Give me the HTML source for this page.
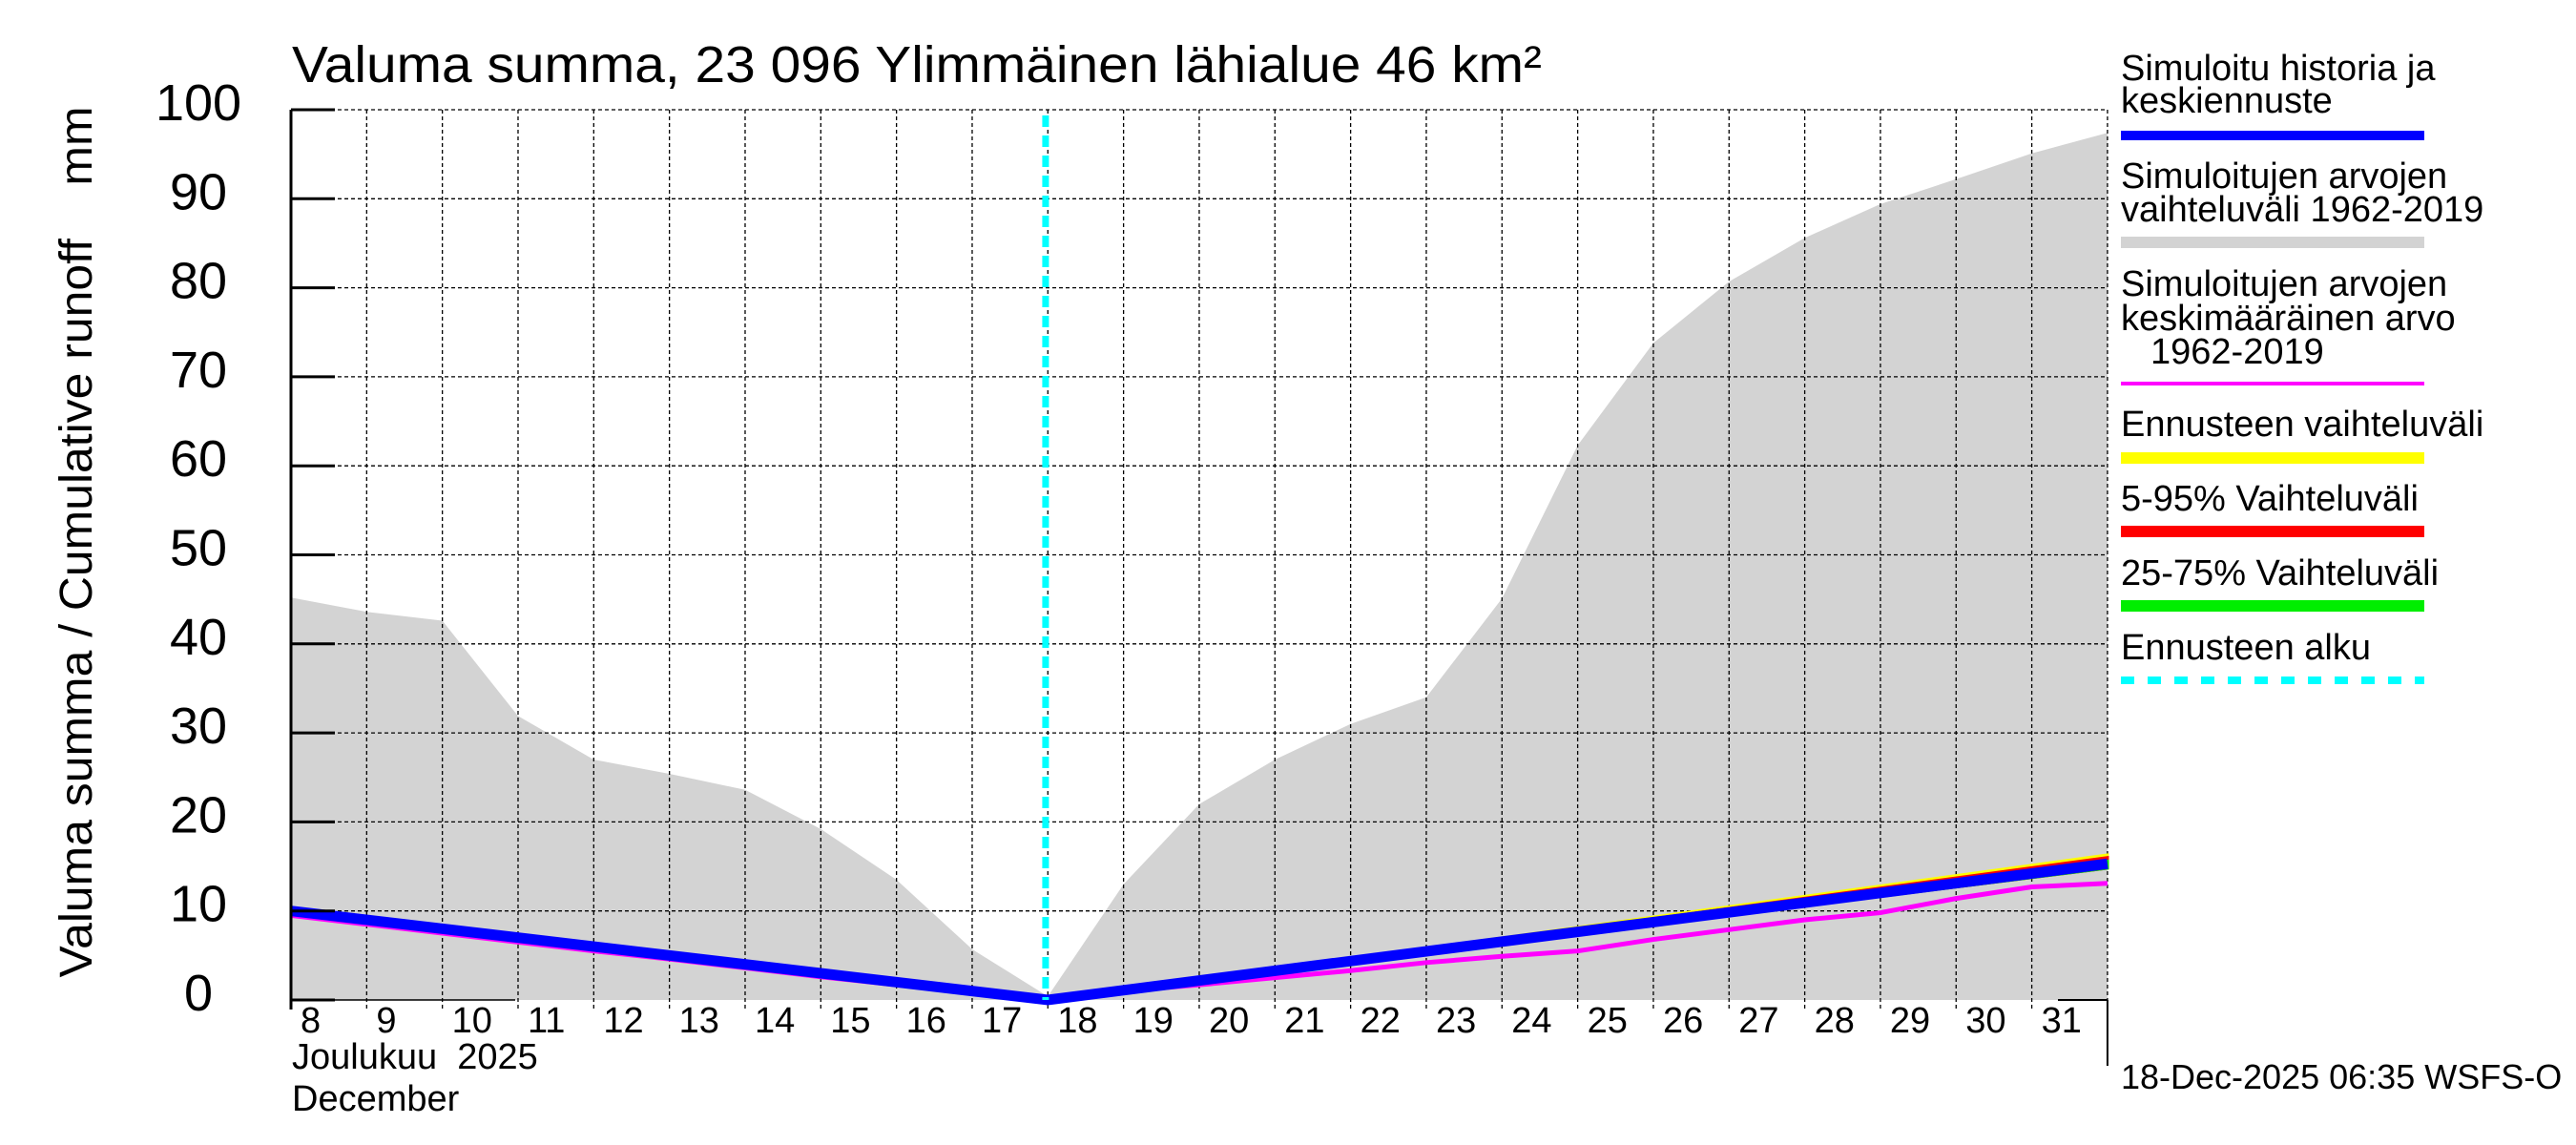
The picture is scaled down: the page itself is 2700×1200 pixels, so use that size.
<!DOCTYPE html>
<html><head><meta charset="utf-8"><style>
html,body{margin:0;padding:0;background:#fff;}
svg{display:block;font-family:"Liberation Sans",Arial,sans-serif;}
text{white-space:pre;}
</style></head><body>
<svg id="chart" width="2700" height="1200" viewBox="0 0 2700 1200">
<text x="306" y="86" font-size="54" textLength="1310" lengthAdjust="spacingAndGlyphs">Valuma summa, 23 096 Ylimmäinen lähialue 46 km²</text>
<text transform="translate(96,568) rotate(-90)" text-anchor="middle" font-size="48" textLength="913" lengthAdjust="spacingAndGlyphs">Valuma summa / Cumulative runoff    mm</text>
<g id="plot"></g>
<g id="legend" font-size="38">
 <text x="2223" y="84">Simuloitu historia ja</text>
 <text x="2223" y="118">keskiennuste</text>
 <rect x="2223" y="137" width="318" height="10" fill="#0000ff"/>
 <text x="2223" y="197">Simuloitujen arvojen</text>
 <text x="2223" y="232">vaihteluväli 1962-2019</text>
 <rect x="2223" y="248" width="318" height="12" fill="#d3d3d3"/>
 <text x="2223" y="310">Simuloitujen arvojen</text>
 <text x="2223" y="346">keskimääräinen arvo</text>
 <text x="2254" y="381">1962-2019</text>
 <rect x="2223" y="400" width="318" height="4" fill="#ff00ff"/>
 <text x="2223" y="457">Ennusteen vaihteluväli</text>
 <rect x="2223" y="474" width="318" height="12" fill="#ffff00"/>
 <text x="2223" y="535">5-95% Vaihteluväli</text>
 <rect x="2223" y="551" width="318" height="12" fill="#ff0000"/>
 <text x="2223" y="613">25-75% Vaihteluväli</text>
 <rect x="2223" y="629" width="318" height="12" fill="#00ee00"/>
 <text x="2223" y="691">Ennusteen alku</text>
 <line x1="2223" y1="713" x2="2541" y2="713" stroke="#00ffff" stroke-width="8" stroke-dasharray="14,14"/>
</g>
<text x="2223" y="1141" font-size="36">18-Dec-2025 06:35 WSFS-O</text>
</svg>
<script>
const days = [8,9,10,11,12,13,14,15,16,17,18,19,20,21,22,23,24,25,26,27,28,29,30,31,32];
const rangeMax = [45.2,43.6,42.6,31.9,27,25.4,23.6,19.2,13.5,5.7,0.4,13,22,27,31,34,45.1,62.3,73.8,80.7,85.6,89.4,92.2,95.1,97.4];
const meanVals = [9.5,8.5,7.5,6.5,5.5,4.6,3.6,2.6,1.7,0.8,-0.2,1,1.7,2.5,3.3,4.2,4.9,5.5,6.8,7.9,9,9.8,11.4,12.7,13.1];
const histDays = [8,18];
const histVals = [10,0];
const fcDays = [18,32];
const fcMed = [0,15.3];
const fcMin = [0,14.8];
const fcMax = [0,16.3];
const fc595Hi = [0,16.0];
const fc2575Hi = [0,15.6];
const yTicks = [0,10,20,30,40,50,60,70,80,90,100];
const dayLabels = ["8","9","10","11","12","13","14","15","16","17","18","19","20","21","22","23","24","25","26","27","28","29","30","31"];
const forecastStart = 17.97;

const X0=305, DX=79.33, Y0=1048, DY=9.33;
const xs = d => X0 + (d-8)*DX;
const ys = v => Y0 - v*DY;
const NS="http://www.w3.org/2000/svg";
const plot=document.getElementById('plot');
function mk(tag, attrs){const e=document.createElementNS(NS,tag);for(const k in attrs)e.setAttribute(k,attrs[k]);plot.appendChild(e);return e;}

let p='M'+xs(days[0])+','+ys(0);
days.forEach((d,i)=>{p+=' L'+xs(d)+','+ys(rangeMax[i]);});
p+=' L'+xs(days[days.length-1])+','+ys(0)+' Z';
let e=mk('path',{d:p,fill:'#d3d3d3'});



days.forEach(d=>{ if(d>8){
 let g=mk('line',{x1:xs(d),y1:ys(100),x2:xs(d),y2:Y0+10,stroke:'#000','stroke-width':1.3,'stroke-dasharray':'4,3'});
 
 
}});
yTicks.forEach(v=>{ if(v>0){
 let g=mk('line',{x1:X0,y1:ys(v),x2:xs(32),y2:ys(v),stroke:'#000','stroke-width':1.3,'stroke-dasharray':'4,3'});
 
 
}});

function band(lo,hi,col,name){
 let d='M'+xs(fcDays[0])+','+ys(lo[0]);
 fcDays.forEach((x,i)=>{d+=' L'+xs(x)+','+ys(hi[i]);});
 for(let i=fcDays.length-1;i>=0;i--) d+=' L'+xs(fcDays[i])+','+ys(lo[i]);
 let b=mk('path',{d:d+' Z',fill:col,stroke:col,'stroke-width':3});
 
 
}
band(fcMin,fcMax,'#ffff00','forecast-range-band');
band(fcMin,fc595Hi,'#ff0000','forecast-5-95-band');
band(fcMin,fc2575Hi,'#00ee00','forecast-25-75-band');

let mp=days.map((d,i)=>(i?'L':'M')+xs(d)+','+ys(meanVals[i])).join(' ');
e=mk('path',{d:mp,fill:'none',stroke:'#ff00ff','stroke-width':5});



let hp=histDays.map((d,i)=>(i?'L':'M')+xs(d)+','+ys(histVals[i])).join(' ')+' '+fcDays.map((d,i)=>'L'+xs(d)+','+ys(fcMed[i])).join(' ');
e=mk('path',{d:hp,fill:'none',stroke:'#0000ff','stroke-width':11});



e=mk('line',{x1:xs(forecastStart),y1:ys(100)+6,x2:xs(forecastStart),y2:Y0,stroke:'#00ffff','stroke-width':7,'stroke-dasharray':'12,9'});



e=mk('line',{x1:X0,y1:ys(100),x2:X0,y2:Y0+10,stroke:'#000','stroke-width':3});


e=mk('line',{x1:X0,y1:Y0,x2:540,y2:Y0,stroke:'#000','stroke-width':1.5});


e=mk('line',{x1:2157,y1:Y0,x2:xs(32),y2:Y0,stroke:'#000','stroke-width':2});


e=mk('line',{x1:xs(32),y1:Y0,x2:xs(32),y2:1117,stroke:'#000','stroke-width':2});



yTicks.forEach(v=>{
 let t=mk('line',{x1:X0,y1:ys(v),x2:X0+46,y2:ys(v),stroke:'#000','stroke-width':3});
 
 
 let l=mk('text',{x:208,y:ys(v)+11,'text-anchor':'middle','font-size':54});
 l.textContent=String(v);
 
 
});
dayLabels.forEach((s,i)=>{
 let l=mk('text',{x:xs(8+i)+10,y:1082,'font-size':38});
 l.textContent=s;
 
 
});
e=mk('text',{x:306,y:1120,'font-size':38});
e.textContent='Joulukuu  2025';


e=mk('text',{x:306,y:1164,'font-size':38});
e.textContent='December';


</script>
</body></html>
